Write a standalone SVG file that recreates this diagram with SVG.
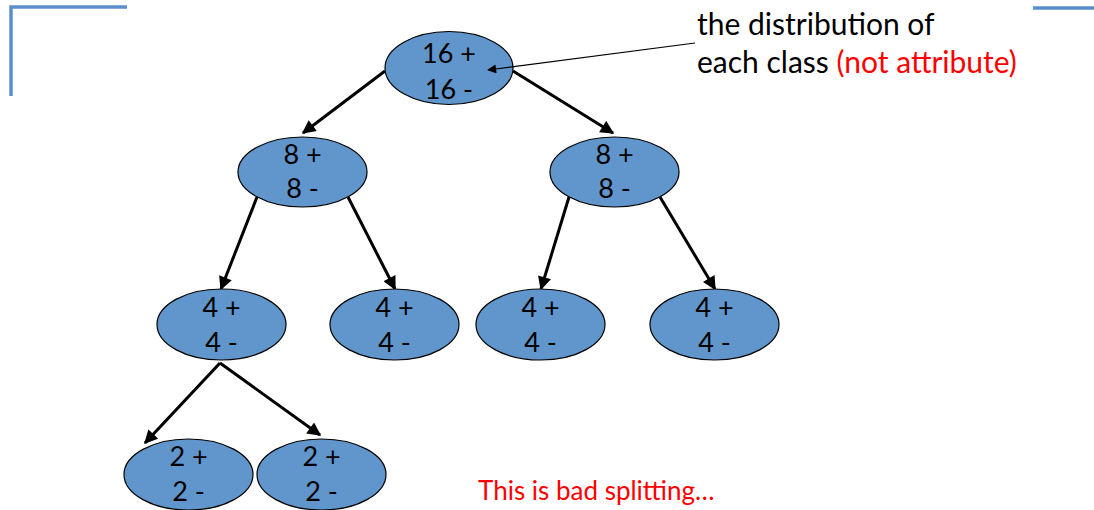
<svg xmlns="http://www.w3.org/2000/svg" width="1094" height="510" viewBox="0 0 1094 510">
<defs>
<style>
.node ellipse{fill:#6096cb;stroke:#000;stroke-width:1.2}
.node text{font-family:Lato,"Open Sans",sans-serif;font-size:27px;fill:#000;text-anchor:middle}
.edge{stroke:#000;stroke-width:3;fill:none;marker-end:url(#ah)}
.deco{stroke:#5b8fcb;stroke-width:3.5;fill:none}
.ann{font-family:Lato,"Open Sans",sans-serif;font-size:30px;fill:#000}
.red{fill:#ff0000}
</style>
<marker id="ah" viewBox="0 0 10 10" refX="9" refY="5" markerWidth="5" markerHeight="4.5" orient="auto" markerUnits="strokeWidth">
<path d="M0,0 L10,5 L0,10 z" fill="#000"/>
</marker>
<marker id="ah2" viewBox="0 0 10 10" refX="9" refY="5" markerWidth="12" markerHeight="9" orient="auto" markerUnits="userSpaceOnUse">
<path d="M0,0 L10,5 L0,10 z" fill="#000"/>
</marker>
</defs>
<rect width="1094" height="510" fill="#fff"/>
<g id="decor">
<path class="deco" d="M11,96 L11,7 L127,7"/>
<path class="deco" d="M1033,8 L1094,8"/>
</g>
<g id="connectors">
<line class="edge" x1="385" y1="71" x2="303" y2="133"/>
<line class="edge" x1="513" y1="71" x2="613" y2="133"/>
<line class="edge" x1="257" y1="197" x2="221" y2="289"/>
<line class="edge" x1="348" y1="197" x2="395" y2="289"/>
<line class="edge" x1="569" y1="197" x2="541" y2="289"/>
<line class="edge" x1="660" y1="197" x2="715" y2="289"/>
<line class="edge" x1="220" y1="363" x2="145" y2="443"/>
<line class="edge" x1="220" y1="363" x2="320" y2="435"/>
</g>
<g id="n_root" class="node">
<ellipse cx="449" cy="68" rx="64" ry="36.5"/>
<text x="449" y="63">16 +</text>
<text x="449" y="99">16 -</text>
</g>
<g id="n_l1a" class="node">
<ellipse cx="302.5" cy="172" rx="64.5" ry="35"/>
<text x="302.5" y="164">8 +</text>
<text x="302.5" y="198">8 -</text>
</g>
<g id="n_l1b" class="node">
<ellipse cx="614.5" cy="172" rx="64.5" ry="35"/>
<text x="614.5" y="164">8 +</text>
<text x="614.5" y="198">8 -</text>
</g>
<g id="n_l2a" class="node">
<ellipse cx="221.5" cy="324.5" rx="64.5" ry="35.5"/>
<text x="221.5" y="317">4 +</text>
<text x="221.5" y="352">4 -</text>
</g>
<g id="n_l2b" class="node">
<ellipse cx="394.5" cy="324.5" rx="64.5" ry="35.5"/>
<text x="394.5" y="317">4 +</text>
<text x="394.5" y="352">4 -</text>
</g>
<g id="n_l2c" class="node">
<ellipse cx="540.5" cy="324.5" rx="64.5" ry="35.5"/>
<text x="540.5" y="317">4 +</text>
<text x="540.5" y="352">4 -</text>
</g>
<g id="n_l2d" class="node">
<ellipse cx="714.5" cy="324.5" rx="64.5" ry="35.5"/>
<text x="714.5" y="317">4 +</text>
<text x="714.5" y="352">4 -</text>
</g>
<g id="n_l3a" class="node">
<ellipse cx="188.5" cy="474.5" rx="64.5" ry="35.5"/>
<text x="188.5" y="466">2 +</text>
<text x="188.5" y="501">2 -</text>
</g>
<g id="n_l3b" class="node">
<ellipse cx="321.5" cy="474.5" rx="64.5" ry="35.5"/>
<text x="321.5" y="466">2 +</text>
<text x="321.5" y="501">2 -</text>
</g>
<g id="annotation">
<line x1="695" y1="43" x2="488" y2="70" stroke="#000" stroke-width="1.2" marker-end="url(#ah2)"/>
<text class="ann" x="697" y="35">the distribution of</text>
<text class="ann" x="697" y="73">each class <tspan class="red">(not attribute)</tspan></text>
<text class="ann red" x="478" y="500" style="font-size:26px">This is bad splitting…</text>
</g>
</svg>
